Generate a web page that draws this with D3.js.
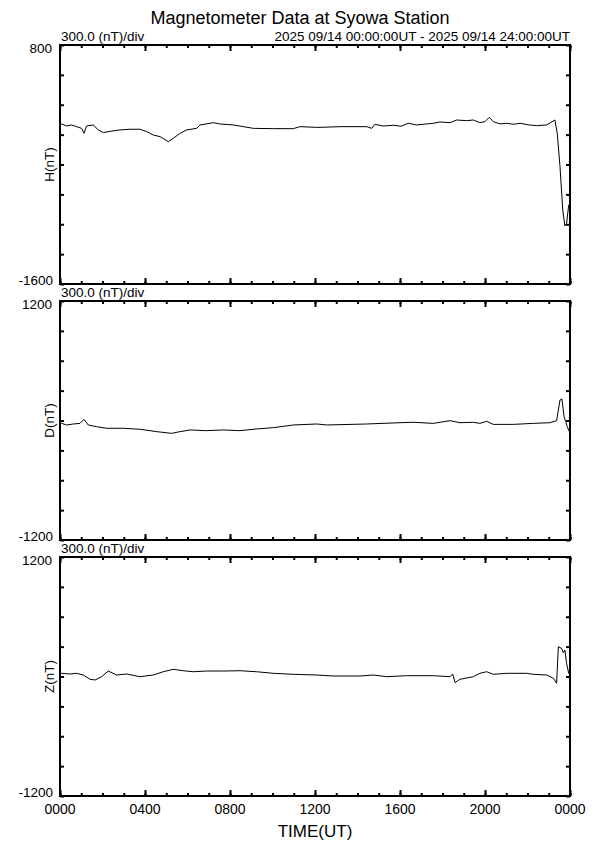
<!DOCTYPE html>
<html>
<head>
<meta charset="utf-8">
<script src="https://cdn.jsdelivr.net/npm/d3@7/dist/d3.min.js"></script>
<style>
body { margin: 0; background: #fff; }
text { font-family: "Liberation Sans", Arial, sans-serif; fill: #000; }
</style>
</head>
<body>
<div id="chart"></div>
<script>
// values (hours UT, nT)
var hHours = [0, 0.08, 0.31, 0.55, 0.78, 1.02, 1.13, 1.25, 1.57, 1.8, 2.04, 2.35, 2.82, 3.29, 3.76, 4.08, 4.39, 4.71, 5.1, 5.33, 5.65, 5.96, 6.43, 6.59, 7.22, 7.53, 8.16, 9.1, 10.04, 10.98, 11.29, 12.08, 12.24, 13.18, 14.43, 14.67, 14.82, 15.2, 15.69, 16.05, 16.39, 16.78, 17.2, 17.57, 17.88, 18.35, 18.67, 19.14, 19.45, 19.76, 20, 20.2, 20.39, 20.7, 21.02, 21.35, 21.65, 22.05, 22.43, 22.9, 23.29, 23.4, 23.53, 23.66, 23.76, 23.84, 23.94, 24];
var hNt = [0, 7, -13, -3, -20, -37, -87, -13, -3, -53, -80, -67, -53, -46, -46, -70, -104, -120, -171, -137, -87, -53, -37, -3, 20, 7, -3, -37, -40, -40, -20, -27, -27, -20, -20, -37, 4, -14, -6, -16, 14, -3, 6, 14, 27, 20, 47, 40, 47, 20, 30, 74, 30, 8, 14, 4, 14, -2, -10, -3, 47, -87, -422, -857, -1017, -990, -806, -823];

var dHours = [0, 0.08, 0.31, 0.63, 0.94, 1.13, 1.33, 1.72, 2.2, 2.98, 3.76, 4.55, 5.25, 5.65, 6.12, 6.9, 7.69, 8.47, 9.25, 10.04, 10.98, 12.08, 12.55, 14.43, 16, 16.63, 17.57, 18.35, 18.82, 19.45, 19.76, 20.08, 20.39, 21.33, 22.27, 23.06, 23.37, 23.53, 23.62, 23.72, 23.8, 23.87, 23.97, 24];
var dNt = [-25, -29, -45, -35, -29, 12, -45, -62, -78, -78, -88, -112, -129, -112, -95, -102, -95, -102, -85, -72, -45, -35, -45, -35, -22, -18, -29, -2, -22, -18, -29, -8, -39, -39, -29, -22, -2, 206, 216, 38, -12, -62, -112, -95];

var zHours = [0, 0.08, 0.47, 0.78, 1.1, 1.41, 1.65, 1.96, 2.27, 2.67, 3.14, 3.76, 4.39, 4.86, 5.33, 5.8, 6.27, 6.9, 7.69, 8.47, 9.25, 10.04, 10.98, 12.08, 12.86, 14.12, 14.75, 15.37, 16.31, 17.57, 18.35, 18.48, 18.59, 18.82, 19.45, 19.76, 20.08, 20.39, 21.02, 21.96, 22.27, 22.9, 23.22, 23.37, 23.45, 23.61, 23.68, 23.76, 23.84, 23.94, 24];
var zNt = [30, 32, 25, 32, 15, -28, -35, -2, 55, 15, 25, -2, 15, 48, 72, 58, 48, 55, 55, 58, 48, 32, 22, 15, 5, 5, 15, -2, 8, 8, -2, 25, -62, -28, -2, 32, 48, 22, 32, 32, 22, 15, -18, -68, 299, 282, 239, 266, 132, 32, 20];

var panelNames = ["H(nT)", "D(nT)", "Z(nT)"];
var panelDomains = [[-1600, 800], [-1200, 1200], [-1200, 1200]];
var timeLabels = ["0000", "0400", "0800", "1200", "1600", "2000", "0000"];
var majorHours = [0, 4, 8, 12, 16, 20, 24];
var minorHours = d3.range(0, 25);

var width = 595, height = 842,
    left = 60, right = 570,
    panelTops = [45, 301, 557],
    panelH = 239;

var svg = d3.select("#chart").append("svg")
    .attr("width", width)
    .attr("height", height);

svg.append("text")
    .attr("x", 300).attr("y", 24)
    .attr("text-anchor", "middle")
    .attr("font-size", 18)
    .text("Magnetometer Data at Syowa Station");

var x = d3.scaleLinear().domain([0, 24]).range([left, right]);

var series = [[hHours, hNt], [dHours, dNt], [zHours, zNt]];

series.forEach(function(s, i) {
    var top = panelTops[i],
        y = d3.scaleLinear().domain(panelDomains[i]).range([top + panelH, top]),
        g = svg.append("g"),
        yTicks = d3.range(panelDomains[i][0], panelDomains[i][1] + 1, 300);

    // ticks, inward on all four sides
    g.append("g").attr("transform", "translate(" + left + ",0)")
        .call(d3.axisLeft(y).tickValues(yTicks).tickSize(-4).tickFormat(""));
    g.append("g").attr("transform", "translate(" + right + ",0)")
        .call(d3.axisRight(y).tickValues(yTicks).tickSize(-4).tickFormat(""));
    g.append("g").attr("transform", "translate(0," + top + ")")
        .call(d3.axisTop(x).tickValues(minorHours).tickSize(-3).tickFormat(""));
    g.append("g").attr("transform", "translate(0," + top + ")")
        .call(d3.axisTop(x).tickValues(majorHours).tickSize(-6).tickFormat(""));
    g.append("g").attr("transform", "translate(0," + (top + panelH) + ")")
        .call(d3.axisBottom(x).tickValues(minorHours).tickSize(-3).tickFormat(""));
    g.append("g").attr("transform", "translate(0," + (top + panelH) + ")")
        .call(d3.axisBottom(x).tickValues(majorHours).tickSize(-6).tickFormat(""));
    g.selectAll(".domain").remove();
    g.selectAll(".tick line").attr("stroke", "#000").attr("stroke-width", 2);

    g.append("rect")
        .attr("x", left).attr("y", top)
        .attr("width", right - left).attr("height", panelH)
        .attr("fill", "none").attr("stroke", "#000").attr("stroke-width", 2);

    var line = d3.line()
        .x(function(d) { return x(d[0]); })
        .y(function(d) { return y(d[1]); });

    g.append("path")
        .datum(d3.zip(s[0], s[1]))
        .attr("d", line)
        .attr("fill", "none")
        .attr("stroke", "#000")
        .attr("stroke-width", 1);

    g.append("text")
        .attr("x", 52).attr("y", y(panelDomains[i][1]) + 4)
        .attr("text-anchor", "end").attr("dominant-baseline", "middle")
        .attr("font-size", 13.5)
        .text(panelDomains[i][1]);
    g.append("text")
        .attr("x", 53).attr("y", y(panelDomains[i][0]) - 3)
        .attr("text-anchor", "end").attr("dominant-baseline", "middle")
        .attr("font-size", 13.5)
        .text(panelDomains[i][0]);

    g.append("text")
        .attr("transform", "translate(54," + (top + panelH / 2) + ") rotate(-90)")
        .attr("text-anchor", "middle")
        .attr("font-size", 13.5)
        .text(panelNames[i]);

    g.append("text")
        .attr("x", 61).attr("y", top - 4)
        .attr("font-size", 13.5)
        .text("300.0 (nT)/div");
});

svg.append("text")
    .attr("x", 570).attr("y", panelTops[0] - 4)
    .attr("text-anchor", "end")
    .attr("font-size", 13.5)
    .text("2025 09/14 00:00:00UT - 2025 09/14 24:00:00UT");

svg.selectAll(".tlabel")
    .data(majorHours)
    .enter().append("text")
    .attr("x", function(d) { return x(d); })
    .attr("y", 814)
    .attr("text-anchor", "middle")
    .attr("font-size", 14)
    .text(function(d, i) { return timeLabels[i]; });

svg.append("text")
    .attr("x", 315).attr("y", 837)
    .attr("text-anchor", "middle")
    .attr("font-size", 17)
    .text("TIME(UT)");
</script>
</body>
</html>
